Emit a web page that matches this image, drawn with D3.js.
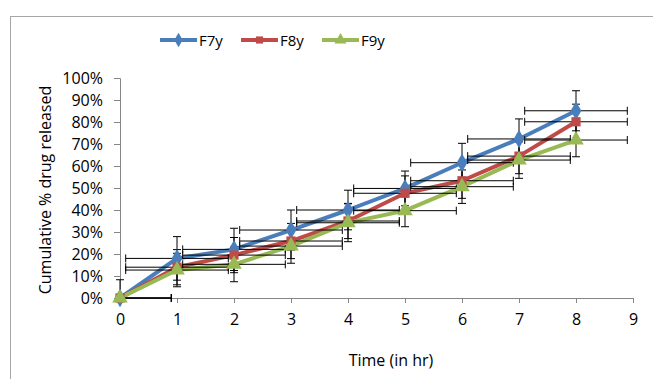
<!DOCTYPE html>
<html>
<head>
<meta charset="utf-8">
<script src="https://cdn.jsdelivr.net/npm/d3@7"></script>
<style>
  html, body { margin: 0; padding: 0; background: #fff; }
  svg { display: block; }
  text { font-family: "Open Sans", "Noto Sans", sans-serif; fill: #000; }
</style>
</head>
<body>
<svg id="chart" width="653" height="379"></svg>
<script>
// Release profile: time points (hours) and cumulative % released per formulation
const timePoints = [0, 1, 2, 3, 4, 5, 6, 7, 8];
const seriesNames = ["F7y", "F8y", "F9y"];
const f7y = [0, 18.0, 22.1, 30.9, 40.0, 49.8, 61.5, 72.3, 85.1];
const f8y = [0, 14.0, 19.5, 25.9, 35.0, 47.6, 53.3, 64.5, 80.1];
const f9y = [0, 12.7, 15.3, 23.6, 34.2, 39.7, 50.6, 62.7, 71.8];
// Standard deviations (% released) and time spread (hours)
const f7yErr = [8.3, 9.9, 9.6, 9.1, 9.0, 7.9, 8.8, 9.1, 9.1];
const f8yErr = [0, 8.0, 8.0, 8.0, 8.0, 7.9, 8.0, 8.0, 8.0];
const f9yErr = [0, 7.6, 7.9, 7.8, 8.6, 7.3, 7.6, 8.3, 7.6];
const timeErr = 0.9;
const xTicks = [0, 1, 2, 3, 4, 5, 6, 7, 8, 9];
const yTicks = [0, 10, 20, 30, 40, 50, 60, 70, 80, 90, 100];
const colors = ["#4a7ebb", "#be4b48", "#98b954"];

const series = seriesNames.map((name, i) => ({
  name,
  color: colors[i],
  values: [f7y, f8y, f9y][i].map((v, j) => ({ t: timePoints[j], v, e: [f7yErr, f8yErr, f9yErr][i][j] }))
}));

const svg = d3.select("#chart");
const fontSize = "16px";

// chart frame
svg.append("rect")
  .attr("x", 10.5).attr("y", 16.5)
  .attr("width", 700).attr("height", 400)
  .attr("fill", "#fff").attr("stroke", "#a6a6a6").attr("stroke-width", 1);

const x = d3.scaleLinear().domain([0, 9]).range([120, 633]);
const y = d3.scaleLinear().domain([0, 100]).range([298, 78]);

// axes
const xAxis = svg.append("g")
  .attr("transform", `translate(0,${y(0)})`)
  .call(d3.axisBottom(x).tickValues(xTicks).tickSize(5).tickPadding(11).tickFormat(d3.format("d")));
const yAxis = svg.append("g")
  .attr("transform", `translate(${x(0)},0)`)
  .call(d3.axisLeft(y).tickValues(yTicks).tickSize(6).tickPadding(11).tickFormat(d => d + "%"));

[xAxis, yAxis].forEach(g => {
  g.select(".domain").attr("stroke", "#868686");
  g.selectAll(".tick line").attr("stroke", "#868686");
  g.selectAll(".tick text").style("font-size", fontSize).attr("fill", "#000");
});

// axis titles
svg.append("text")
  .attr("x", 391).attr("y", 366)
  .attr("text-anchor", "middle")
  .style("font-size", fontSize)
  .text("Time (in hr)");
svg.append("text")
  .attr("transform", `translate(51,190) rotate(-90)`)
  .attr("text-anchor", "middle")
  .style("font-size", fontSize)
  .text("Cumulative % drug released");

const line = d3.line().x(d => x(d.t)).y(d => y(d.v));

// lines
series.forEach(s => {
  svg.append("path")
    .datum(s.values)
    .attr("fill", "none")
    .attr("stroke", s.color)
    .attr("stroke-width", 4)
    .attr("stroke-linejoin", "round")
    .attr("d", line);
});

// error bars (vertical: SD, horizontal: time spread), clipped at the axes
const cap = 4;
const eb = svg.append("g").attr("stroke", "#000").attr("stroke-width", 1).attr("fill", "none");
series.forEach(s => {
  s.values.forEach(d => {
    const cx = x(d.t), cy = y(d.v);
    if (d.e > 0) {
      const yTop = y(d.v + d.e), yBot = y(Math.max(0, d.v - d.e));
      eb.append("line").attr("x1", cx).attr("x2", cx).attr("y1", yTop).attr("y2", yBot);
      eb.append("line").attr("x1", cx - cap).attr("x2", cx + cap).attr("y1", yTop).attr("y2", yTop);
      if (d.v - d.e > 0) eb.append("line").attr("x1", cx - cap).attr("x2", cx + cap).attr("y1", yBot).attr("y2", yBot);
    }
    const xl = x(Math.max(0, d.t - timeErr)), xr = x(d.t + timeErr);
    eb.append("line").attr("x1", xl).attr("x2", xr).attr("y1", cy).attr("y2", cy);
    eb.append("line").attr("x1", xr).attr("x2", xr).attr("y1", cy - cap).attr("y2", cy + cap);
    if (d.t - timeErr > 0) eb.append("line").attr("x1", xl).attr("x2", xl).attr("y1", cy - cap).attr("y2", cy + cap);
  });
});

// markers
const sym = [d3.symbolDiamond, d3.symbolSquare, d3.symbolTriangle];
const symSize = [100, 85, 105];
series.forEach((s, i) => {
  svg.append("g").selectAll("path")
    .data(s.values)
    .join("path")
    .attr("transform", d => `translate(${x(d.t)},${y(d.v)})`)
    .attr("d", d3.symbol().type(sym[i]).size(symSize[i]))
    .attr("fill", s.color);
});

// legend
const legendX = [160, 241, 322];
const legend = svg.append("g");
series.forEach((s, i) => {
  const g = legend.append("g").attr("transform", `translate(${legendX[i]},40)`);
  g.append("line").attr("x1", 0).attr("x2", 37).attr("stroke", s.color).attr("stroke-width", 4);
  g.append("path").attr("transform", "translate(18.5,0)")
    .attr("d", d3.symbol().type(sym[i]).size(symSize[i] * 0.6)).attr("fill", s.color);
  g.append("text").attr("x", 39).attr("y", 5.5).style("font-size", "15px").text(s.name);
});
</script>
</body>
</html>
